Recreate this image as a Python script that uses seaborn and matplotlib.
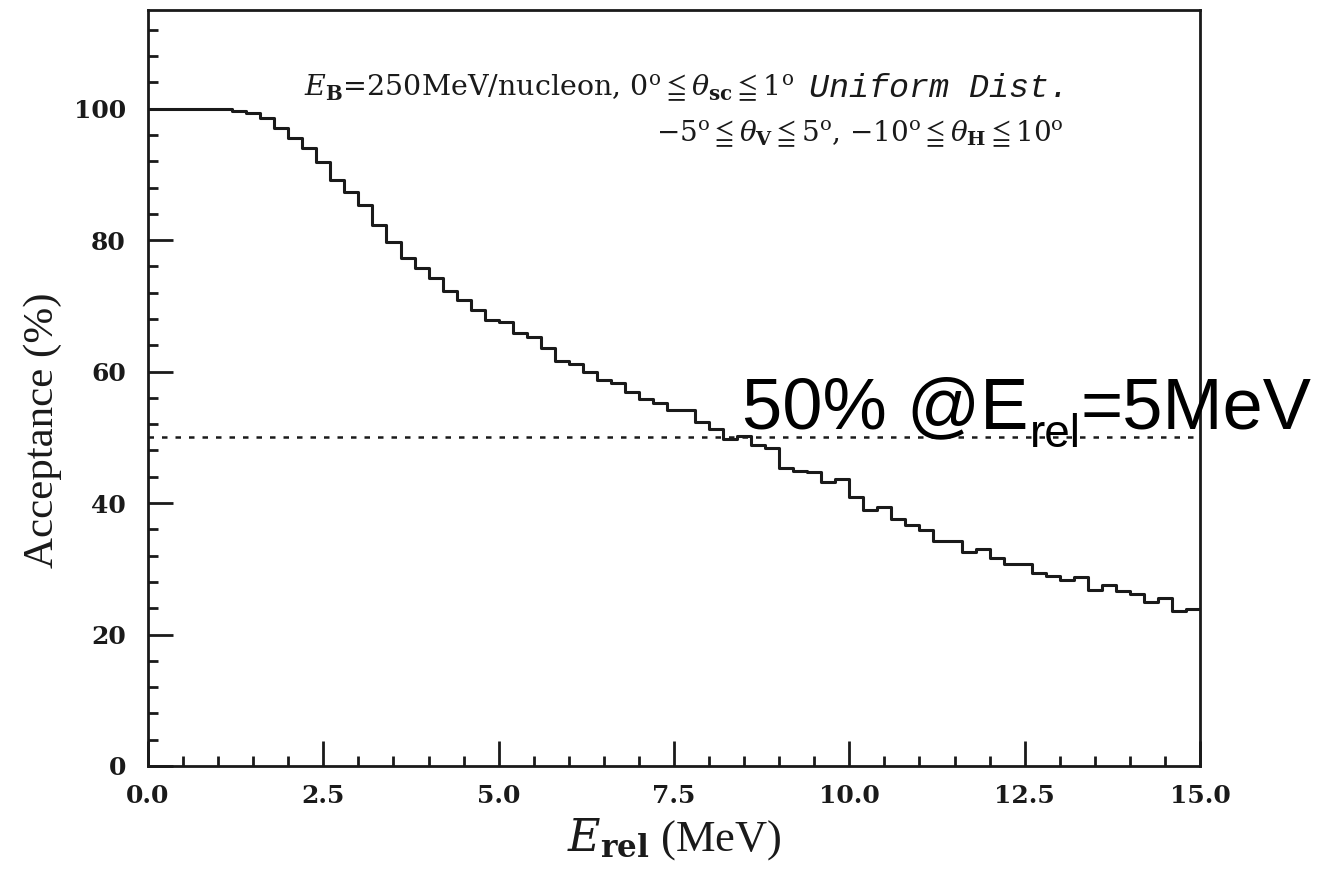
import numpy as np
import pandas as pd
import matplotlib
matplotlib.use('Agg')
import matplotlib.pyplot as plt
import seaborn as sns
from matplotlib.ticker import MultipleLocator

# E_rel bins (MeV), 0.2 MeV wide from 0 to 15
e_edges = np.linspace(0.0, 15.0, 76)

# acceptance (%) per bin
acceptance = [
    100.0, 100.0, 100.0, 100.0, 100.0, 99.9, 99.7, 99.4, 98.5, 97.0,
    95.5, 94.0, 91.9, 89.1, 87.3, 85.4, 82.3, 79.7, 77.3, 75.7,
    74.3, 72.3, 70.9, 69.4, 67.8, 67.5, 65.9, 65.3, 63.6, 61.6,
    61.2, 59.9, 58.7, 58.2, 56.9, 55.9, 55.2, 54.1, 54.1, 52.3,
    51.3, 49.8, 50.2, 48.9, 48.3, 45.4, 44.9, 44.7, 43.2, 43.6,
    40.9, 39.0, 39.4, 37.5, 36.7, 35.9, 34.2, 34.3, 32.6, 33.0,
    31.6, 30.7, 30.7, 29.4, 28.9, 28.3, 28.7, 26.7, 27.5, 26.6,
    26.2, 24.9, 25.5, 23.5, 23.9,
]

half_level = 50.0
x_ticks = [0.0, 2.5, 5.0, 7.5, 10.0, 12.5, 15.0]
y_ticks = [0, 20, 40, 60, 80, 100]

df = pd.DataFrame({
    'e_rel': (e_edges[:-1] + e_edges[1:]) / 2,
    'acc': acceptance,
})

sns.set_style('white')
plt.rcParams['mathtext.fontset'] = 'dejavuserif'
plt.rcParams['axes.linewidth'] = 2.0

ink = '#1a1a1a'
fig = plt.figure(figsize=(13.36, 8.73), dpi=100)
ax = fig.add_axes([0.1108, 0.1226, 0.7874, 0.8659])

sns.histplot(data=df, x='e_rel', weights='acc', bins=len(acceptance),
             binrange=(e_edges[0], e_edges[-1]),
             element='step', fill=False, color=ink, linewidth=2.2, ax=ax)
ax.axhline(half_level, color=ink, linestyle=(0, (2.2, 3.2)), linewidth=1.8)

ax.set_xlim(0, 15)
ax.set_ylim(0, 115)
ax.set_xticks(x_ticks)
ax.set_xticklabels([f'{v:.1f}' for v in x_ticks])
ax.set_yticks(y_ticks)
ax.xaxis.set_minor_locator(MultipleLocator(0.5))
ax.yaxis.set_minor_locator(MultipleLocator(4))
ax.tick_params(which='both', direction='in', color=ink, width=2.0,
               left=True, bottom=True, top=False, right=False)
ax.tick_params(which='major', length=18)
ax.tick_params(which='minor', length=7)
ax.tick_params(axis='y', which='major', pad=16)
ax.tick_params(axis='x', which='major', pad=13)
for lab in ax.get_xticklabels() + ax.get_yticklabels():
    lab.set_fontfamily('DejaVu Serif')
    lab.set_fontweight('bold')
    lab.set_fontsize(18)
    lab.set_color(ink)
for sp in ax.spines.values():
    sp.set_color(ink)

ax.set_ylabel('Acceptance (%)', family='Liberation Serif', fontsize=31, color=ink)
ax.yaxis.set_label_coords(-0.082, 0.444)
ax.set_xlabel(r'$E_{\mathbf{rel}}$ (MeV)', family='Liberation Serif', fontsize=32,
              color=ink, labelpad=6)

# run conditions
t1 = ax.text(2.22, 101.9,
             r'$E_{\mathbf{B}}$=250MeV/nucleon, 0$^{\mathrm{o}}\leqq\theta_{\mathbf{sc}}\leqq$1$^{\mathrm{o}}$  ',
             family='DejaVu Serif', fontsize=20.5, va='baseline', color=ink)
ax.annotate('Uniform Dist.', xy=(1, 0), xycoords=t1, xytext=(3, 0),
            textcoords='offset points', va='bottom',
            family='Liberation Mono', style='italic', fontsize=24, color=ink)
ax.text(7.24, 95.0,
        r'$-$5$^{\mathrm{o}}\leqq\theta_{\mathbf{V}}\leqq$5$^{\mathrm{o}}$, $-$10$^{\mathrm{o}}\leqq\theta_{\mathbf{H}}\leqq$10$^{\mathrm{o}}$',
        family='DejaVu Serif', fontsize=20, va='baseline', color=ink)

# 50% marker text, with a lowered subscript
big = dict(family='Liberation Sans', color='black', clip_on=False)
ta = ax.text(8.47, 51.4, '50% @E', fontsize=52, va='baseline', **big)
tb = ax.annotate('rel', xy=(1, 0), xycoords=ta, xytext=(1, -3),
                 textcoords='offset points', fontsize=33, va='baseline', **big)
ax.annotate('=5MeV', xy=(1, 0), xycoords=(tb, ta), xytext=(0, 0),
            textcoords='offset points', fontsize=52, va='bottom', **big)

fig.savefig('out.png', dpi=100)
